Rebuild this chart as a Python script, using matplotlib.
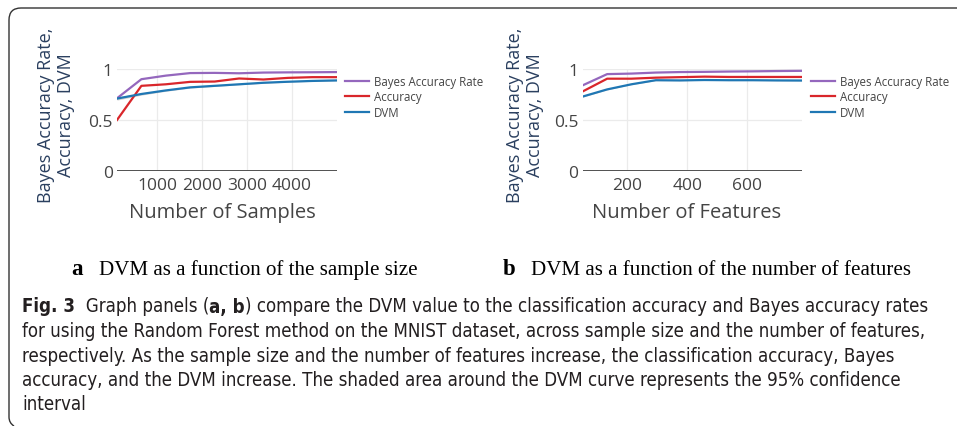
import matplotlib
matplotlib.use("Agg")
import matplotlib.pyplot as plt
from matplotlib import font_manager
from matplotlib.path import Path
from matplotlib.patches import PathPatch

# panel a : DVM vs number of samples
samples = [100, 644, 1189, 1733, 2278, 2822, 3367, 3911, 4456, 5000]
bayes_a = [0.713, 0.900, 0.935, 0.960, 0.962, 0.958, 0.965, 0.967, 0.968, 0.970]
acc_a = [0.500, 0.835, 0.850, 0.874, 0.877, 0.907, 0.897, 0.913, 0.920, 0.920]
dvm_a = [0.710, 0.755, 0.790, 0.820, 0.835, 0.850, 0.865, 0.875, 0.883, 0.888]
dvm_a_lo = [0.695, 0.744, 0.782, 0.813, 0.829, 0.845, 0.860, 0.871, 0.879, 0.884]
dvm_a_hi = [0.725, 0.766, 0.798, 0.827, 0.841, 0.855, 0.870, 0.879, 0.887, 0.892]

# panel b : DVM vs number of features
features = [50, 132, 213, 295, 376, 458, 539, 621, 702, 784]
bayes_b = [0.840, 0.950, 0.955, 0.965, 0.970, 0.972, 0.975, 0.977, 0.980, 0.982]
acc_b = [0.780, 0.905, 0.905, 0.915, 0.920, 0.925, 0.922, 0.922, 0.922, 0.922]
dvm_b = [0.730, 0.800, 0.850, 0.890, 0.888, 0.892, 0.890, 0.890, 0.888, 0.887]
dvm_b_lo = [0.724, 0.795, 0.846, 0.886, 0.885, 0.889, 0.887, 0.887, 0.885, 0.884]
dvm_b_hi = [0.736, 0.805, 0.854, 0.894, 0.891, 0.895, 0.893, 0.893, 0.891, 0.890]

yticks = [0, 0.5, 1]
ytick_labels = ["0", "0.5", "1"]
xticks_a = [1000, 2000, 3000, 4000]
xticks_b = [200, 400, 600]
series_names = ["Bayes Accuracy Rate", "Accuracy", "DVM"]
ytitle = "Bayes Accuracy Rate,\nAccuracy, DVM"

caption_lines = [
    [("Fig. 3", "bold"), ("  Graph panels (", "normal"), ("a, b", "bold"),
     (") compare the DVM value to the classification accuracy and Bayes accuracy rates", "normal")],
    [("for using the Random Forest method on the MNIST dataset, across sample size and the number of features,", "normal")],
    [("respectively. As the sample size and the number of features increase, the classification accuracy, Bayes", "normal")],
    [("accuracy, and the DVM increase. The shaded area around the DVM curve represents the 95% confidence", "normal")],
    [("interval", "normal")],
]

W, H = 957, 427
purple, red, blue = "#9467bd", "#d9262b", "#1f77b4"
plt.rcParams['font.family'] = ['Open Sans', 'DejaVu Sans']

# narrow sans for the caption, whichever is there
fonts = font_manager.fontManager.ttflist
names = {f.name for f in fonts}
cap_stretch = "normal"
if "Liberation Sans Narrow" in names:
    cap_font = "Liberation Sans Narrow"
elif any(f.name == "DejaVu Sans" and f.stretch == "condensed" for f in fonts):
    cap_font, cap_stretch = "DejaVu Sans", "condensed"
else:
    cap_font = "Lato"


def fx(x):
    return x / W


def fy(y):
    return 1 - y / H


fig = plt.figure(figsize=(W / 100, H / 100), dpi=100)


def panel(left, right, xs, bayes, acc, dvm, lo, hi, xticks, xlabel, xlab_x, ytit_x, leg_x):
    ax = fig.add_axes([fx(left), fy(172), (right - left) / W, 102 / H])
    ax.fill_between(xs, lo, hi, color="#7f7f7f", alpha=0.35, lw=0)
    ax.plot(xs, bayes, color=purple, lw=1.6, label=series_names[0])
    ax.plot(xs, acc, color=red, lw=1.6, label=series_names[1])
    ax.plot(xs, dvm, color=blue, lw=1.6, label=series_names[2])
    ax.set_xlim(xs[0], xs[-1])
    ax.set_ylim(0, 1)
    ax.set_yticks(yticks)
    ax.set_yticklabels(ytick_labels)
    ax.set_xticks(xticks)
    ax.grid(color="#ebebeb", lw=0.9)
    ax.set_axisbelow(True)
    for s in ax.spines.values():
        s.set_visible(False)
    ax.axhline(0, color="#444444", lw=1.3)
    ax.tick_params(length=0, labelsize=12.5, colors="#444444")
    ax.tick_params(axis="x", pad=4)
    ax.tick_params(axis="y", pad=3)
    fig.text(fx(xlab_x), fy(213), xlabel, ha="center", va="center", fontsize=14.5, color="#444444")
    fig.text(fx(ytit_x), fy(115), ytitle, ha="center", va="center", rotation=90,
             multialignment="center", fontsize=13, color="#2a3f5f", linespacing=1.2)
    ax.legend(loc="upper left", bbox_to_anchor=(fx(leg_x), fy(76)), bbox_transform=fig.transFigure,
              frameon=False, fontsize=8.3, handlelength=2.1, handletextpad=0.4,
              labelspacing=0.2, borderpad=0, borderaxespad=0, labelcolor="#444444")
    return ax


panel(117, 336.7, samples, bayes_a, acc_a, dvm_a, dvm_a_lo, dvm_a_hi, xticks_a,
      "Number of Samples", 222.5, 56, 345)
panel(582.7, 801.7, features, bayes_b, acc_b, dvm_b, dvm_b_lo, dvm_b_hi, xticks_b,
      "Number of Features", 687, 525, 811)

# sub captions
fig.text(fx(71), fy(275), "a", family="Liberation Serif", weight="bold", fontsize=16.5, va="baseline")
fig.text(fx(99), fy(275), "DVM as a function of the sample size", family="Liberation Serif",
         fontsize=15.1, va="baseline")
fig.text(fx(503), fy(275), "b", family="Liberation Serif", weight="bold", fontsize=16.5, va="baseline")
fig.text(fx(531), fy(275), "DVM as a function of the number of features", family="Liberation Serif",
         fontsize=15.1, va="baseline")

# caption, size fitted so line 2 spans 22..930 px
r = fig.canvas.get_renderer()
probe = fig.text(0, 0, caption_lines[1][0][0], family=cap_font, stretch=cap_stretch, fontsize=15)
w = probe.get_window_extent(r).width
probe.remove()
cap_size = min(15 * (930 - 22) / w, 15)

baselines = [312.5, 337, 361.5, 386, 410.5]
for line, base in zip(caption_lines, baselines):
    x = 22
    for txt, wt in line:
        t = fig.text(fx(x), fy(base), txt, family=cap_font, stretch=cap_stretch, weight=wt,
                     fontsize=cap_size, va="baseline", color="#231f20")
        x += t.get_window_extent(r).width

# frame bracket on the left / top
verts = [(W, 9), (21, 9), (9, 9), (9, 21), (9, 418), (9, 424), (14, 427)]
codes = [Path.MOVETO, Path.LINETO, Path.CURVE3, Path.CURVE3, Path.LINETO, Path.CURVE3, Path.CURVE3]
frame = PathPatch(Path([(fx(a), fy(b)) for a, b in verts], codes), transform=fig.transFigure,
                  fill=False, edgecolor="#333333", lw=1.0)
fig.add_artist(frame)

fig.savefig("out.png", dpi=100)
